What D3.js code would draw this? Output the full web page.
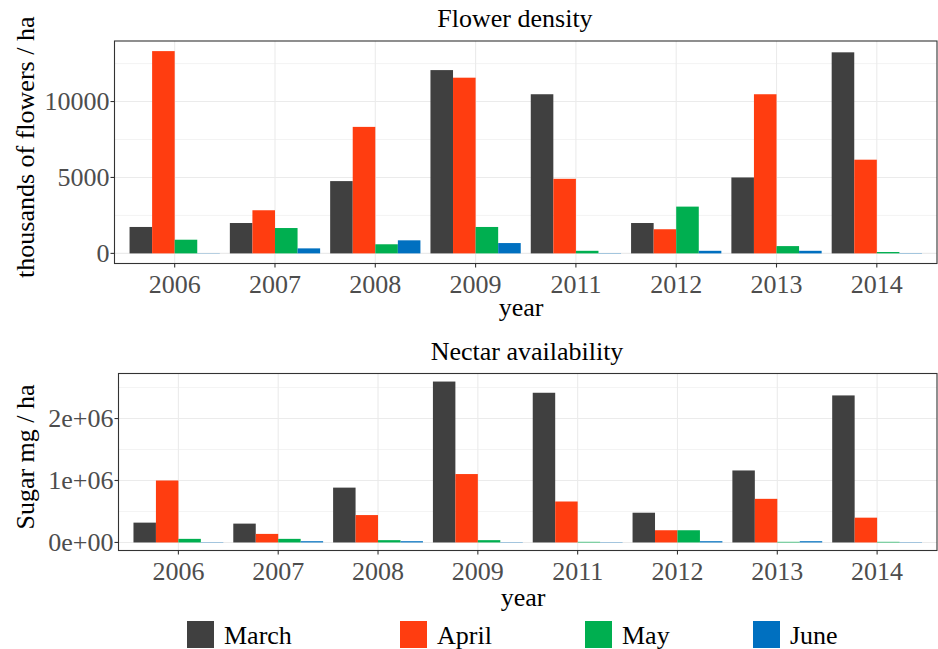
<!DOCTYPE html>
<html>
<head>
<meta charset="utf-8">
<script src="https://cdn.jsdelivr.net/npm/d3@7"></script>
<style>
  body { margin: 0; background: #fff; }
  svg { display: block; font-family: "Liberation Serif", "Times New Roman", serif; }
</style>
</head>
<body>
<div id="chart"></div>
<script>
const years = ["2006", "2007", "2008", "2009", "2011", "2012", "2013", "2014"];
const months = ["March", "April", "May", "June"];
const monthColors = ["#404040", "#FF3D10", "#00AF50", "#0070C0"];

// thousands of flowers / ha
const flowerMarch = [1740, 2000, 4760, 12070, 10480, 2000, 5000, 13240];
const flowerApril = [13320, 2840, 8330, 11570, 4910, 1590, 10480, 6170];
const flowerMay = [900, 1670, 600, 1740, 170, 3080, 480, 90];
const flowerJune = [15, 330, 860, 680, 20, 170, 170, 20];

// sugar mg / ha
const nectarMarch = [320000, 304000, 885000, 2597000, 2416000, 480000, 1162000, 2373000];
const nectarApril = [1000000, 138000, 442000, 1104000, 661000, 197000, 704000, 400000];
const nectarMay = [58000, 58000, 37000, 37000, 10000, 197000, 10000, 10000];
const nectarJune = [5000, 20000, 20000, 5000, 5000, 20000, 20000, 5000];

const flowerTicks = [0, 5000, 10000];
const nectarTicks = [0, 1000000, 2000000];

const W = 938, H = 649;
const svg = d3.select("#chart").append("svg")
  .attr("width", W)
  .attr("height", H);

function drawPanel(cfg) {
  const { box, series, ticks, tickFormat, title, titleX, titleY, ylabel, yearX, yearY, tickLabelY } = cfg;
  const g = svg.append("g");

  const rows = years.map((y, i) => ({ year: y, values: series.map((s, k) => ({ month: months[k], value: s[i] })) }));
  const maxV = d3.max(series.flat());

  const x = d3.scalePoint().domain(years).range([box.left, box.right]).padding(0.6);
  const step = x.step();
  const xSub = d3.scaleBand().domain(months).range([-0.45 * step, 0.45 * step]);
  const y = d3.scaleLinear().domain([-0.05 * maxV, 1.05 * maxV]).range([box.bottom, box.top]);

  // minor gridlines
  const minor = d3.pairs(ticks).map(([a, b]) => (a + b) / 2).concat([ticks[ticks.length - 1] + (ticks[1] - ticks[0]) / 2]);
  g.selectAll(".minor")
    .data(minor.filter(v => y(v) > box.top))
    .enter().append("line")
    .attr("x1", box.left).attr("x2", box.right)
    .attr("y1", d => y(d)).attr("y2", d => y(d))
    .attr("stroke", "#EBEBEB").attr("stroke-width", 0.6);

  g.selectAll(".hmajor")
    .data(ticks)
    .enter().append("line")
    .attr("x1", box.left).attr("x2", box.right)
    .attr("y1", d => y(d)).attr("y2", d => y(d))
    .attr("stroke", "#EBEBEB").attr("stroke-width", 1.1);

  g.selectAll(".vmajor")
    .data(years)
    .enter().append("line")
    .attr("x1", d => x(d)).attr("x2", d => x(d))
    .attr("y1", box.top).attr("y2", box.bottom)
    .attr("stroke", "#EBEBEB").attr("stroke-width", 1.1);

  // bars
  const groups = g.selectAll(".year")
    .data(rows)
    .enter().append("g")
    .attr("transform", d => `translate(${x(d.year)},0)`);

  groups.selectAll("rect")
    .data(d => d.values)
    .enter().append("rect")
    .attr("x", d => xSub(d.month))
    .attr("width", xSub.bandwidth())
    .attr("y", d => y(d.value))
    .attr("height", d => y(0) - y(d.value))
    .attr("fill", (d, k) => monthColors[k]);

  // panel border
  g.append("rect")
    .attr("x", box.left).attr("y", box.top)
    .attr("width", box.right - box.left)
    .attr("height", box.bottom - box.top)
    .attr("fill", "none")
    .attr("stroke", "#333333").attr("stroke-width", 1.1);

  // x ticks
  g.selectAll(".xtick")
    .data(years)
    .enter().append("line")
    .attr("x1", d => x(d)).attr("x2", d => x(d))
    .attr("y1", box.bottom).attr("y2", box.bottom + 4)
    .attr("stroke", "#333333").attr("stroke-width", 1.1);

  g.selectAll(".xlab")
    .data(years)
    .enter().append("text")
    .attr("x", d => x(d))
    .attr("y", tickLabelY)
    .attr("text-anchor", "middle")
    .attr("font-size", 26)
    .attr("fill", "#4D4D4D")
    .text(d => d);

  // y ticks
  g.selectAll(".ytick")
    .data(ticks)
    .enter().append("line")
    .attr("x1", box.left - 4).attr("x2", box.left)
    .attr("y1", d => y(d)).attr("y2", d => y(d))
    .attr("stroke", "#333333").attr("stroke-width", 1.1);

  g.selectAll(".ylab")
    .data(ticks)
    .enter().append("text")
    .attr("x", box.left - 5)
    .attr("y", d => y(d))
    .attr("dy", "0.33em")
    .attr("text-anchor", "end")
    .attr("font-size", 26)
    .attr("fill", "#4D4D4D")
    .text(tickFormat);

  // titles
  g.append("text")
    .attr("x", titleX).attr("y", titleY)
    .attr("text-anchor", "middle")
    .attr("font-size", 26)
    .attr("fill", "#000")
    .text(title);

  g.append("text")
    .attr("x", yearX).attr("y", yearY)
    .attr("text-anchor", "middle")
    .attr("font-size", 26)
    .attr("fill", "#000")
    .text("year");

  g.append("text")
    .attr("transform", `translate(34,${(box.top + box.bottom) / 2 - 5}) rotate(-90)`)
    .attr("text-anchor", "middle")
    .attr("font-size", 26)
    .attr("fill", "#000")
    .text(ylabel);
}

drawPanel({
  box: { left: 114.5, right: 937, top: 41, bottom: 263.5 },
  series: [flowerMarch, flowerApril, flowerMay, flowerJune],
  ticks: flowerTicks,
  tickFormat: d => String(d),
  title: "Flower density", titleX: 515, titleY: 27,
  ylabel: "thousands of flowers / ha",
  yearX: 521, yearY: 316,
  tickLabelY: 293
});

drawPanel({
  box: { left: 118.5, right: 937, top: 373.5, bottom: 550.5 },
  series: [nectarMarch, nectarApril, nectarMay, nectarJune],
  ticks: nectarTicks,
  tickFormat: d => d === 0 ? "0e+00" : (d / 1e6) + "e+06",
  title: "Nectar availability", titleX: 527, titleY: 360,
  ylabel: "Sugar mg / ha",
  yearX: 523, yearY: 606,
  tickLabelY: 580
});

// legend
const legendX = [187, 400, 585, 753];
const legend = svg.append("g").selectAll("g")
  .data(months)
  .enter().append("g")
  .attr("transform", (d, i) => `translate(${legendX[i]},621)`);

legend.append("rect")
  .attr("width", 27).attr("height", 27)
  .attr("fill", (d, i) => monthColors[i]);

legend.append("text")
  .attr("x", 37).attr("y", 23)
  .attr("font-size", 26)
  .attr("fill", "#000")
  .text(d => d);
</script>
</body>
</html>
